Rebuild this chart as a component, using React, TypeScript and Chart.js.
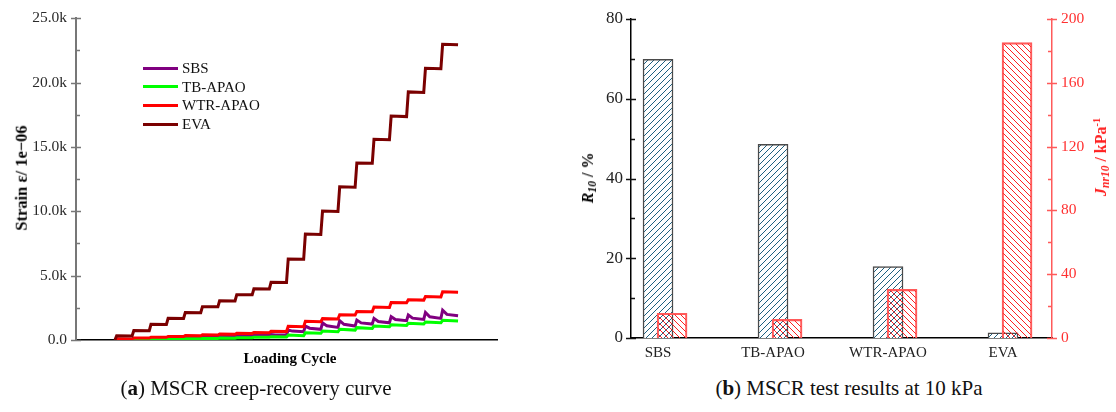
import React, { useEffect, useRef } from 'react';
import { Chart, registerables } from 'chart.js';

Chart.register(...registerables);

// ---------- Panel (a): creep-recovery strain per loading cycle (µε) ----------
const seriesNames = ['SBS', 'TB-APAO', 'WTR-APAO', 'EVA'];
const seriesColors = ['#800080', '#00ff00', '#ff0000', '#7a0000'];

const sbsPeak = [50, 90, 130, 170, 210, 250, 290, 330, 370, 420, 770, 1080, 1340, 1500, 1550, 1680, 1810, 1940, 2140, 2320];
const sbsKnee = [35, 75, 115, 150, 190, 230, 270, 310, 350, 395, 690, 920, 1100, 1220, 1330, 1440, 1590, 1700, 1800, 1990];
const sbsEnd = [30, 70, 110, 145, 185, 225, 265, 305, 345, 390, 640, 830, 980, 1080, 1240, 1340, 1500, 1600, 1680, 1880];

const tbPeak = [15, 35, 55, 75, 100, 125, 150, 180, 210, 250, 380, 570, 700, 830, 960, 1090, 1190, 1300, 1400, 1530];
const tbEnd = [10, 30, 50, 70, 95, 120, 145, 175, 205, 240, 330, 520, 640, 770, 900, 1030, 1130, 1240, 1340, 1470];

const wtrPeak = [100, 160, 220, 280, 340, 400, 460, 520, 580, 680, 1060, 1450, 1660, 1960, 2220, 2560, 2910, 3120, 3380, 3750];
const wtrEnd = [80, 150, 210, 270, 330, 390, 450, 510, 570, 660, 1030, 1420, 1630, 1940, 2190, 2530, 2890, 3100, 3350, 3720];

const evaPeak = [330, 730, 1220, 1690, 2130, 2590, 3050, 3520, 3980, 4480, 6300, 8230, 10020, 11900, 13760, 15600, 17400, 19280, 21120, 22980];
const evaEnd = [320, 720, 1210, 1680, 2120, 2580, 3040, 3510, 3970, 4470, 6270, 8200, 9990, 11870, 13730, 15560, 17360, 19240, 21080, 22940];

const strainTicks = [0, 5000, 10000, 15000, 20000, 25000];
const strainTickLabels = ['0.0', '5.0k', '10.0k', '15.0k', '20.0k', '25.0k'];
const strainMinor = [2500, 7500, 12500, 17500, 22500];

// ---------- Panel (b): MSCR results at 10 kPa ----------
const binders = ['SBS', 'TB-APAO', 'WTR-APAO', 'EVA'];
const r10 = [69.9, 48.6, 17.9, 1.3];
const jnr10 = [15.5, 11.7, 30.5, 185.2];
const r10Ticks = [0, 20, 40, 60, 80];
const r10Minor = [10, 30, 50, 70];
const jnrTicks = [0, 40, 80, 120, 160, 200];
const jnrMinor = [20, 60, 100, 140, 180];

const SERIF = '"Liberation Serif", "Times New Roman", serif';

function buildCurve(peak: number[], end: number[], knee?: number[]) {
  const pts: { x: number; y: number }[] = [{ x: 0, y: 0 }];
  for (let i = 0; i < peak.length; i++) {
    pts.push({ x: i + 0.1, y: peak[i] });
    if (knee) pts.push({ x: i + 0.35, y: knee[i] });
    pts.push({ x: i + 1, y: end[i] });
  }
  return pts;
}

const axisTicksPlugin = {
  id: 'axisTicks',
  afterDraw(chart: any, _args: any, opts: any) {
    if (!opts || !opts.items) return;
    const ctx = chart.ctx;
    ctx.save();
    for (const it of opts.items) {
      const s = chart.scales[it.id];
      if (!s) continue;
      const ax = it.side === 'left' ? s.right : s.left;
      const inward = it.side === 'left' ? 1 : -1;
      ctx.strokeStyle = it.color;
      ctx.lineWidth = it.width || 1.5;
      ctx.beginPath();
      for (const v of it.major) {
        const y = Math.round(s.getPixelForValue(v)) + 0.5;
        ctx.moveTo(ax - 5, y);
        ctx.lineTo(ax + 5, y);
      }
      for (const v of it.minor) {
        const y = Math.round(s.getPixelForValue(v)) + 0.5;
        ctx.moveTo(ax, y);
        ctx.lineTo(ax + inward * 4, y);
      }
      ctx.stroke();
    }
    ctx.restore();
  },
};

function makeHatch(color: string, size: number, forward: boolean, bg: string | null) {
  const c = document.createElement('canvas');
  c.width = size;
  c.height = size;
  const g = c.getContext('2d') as CanvasRenderingContext2D;
  if (bg) {
    g.fillStyle = bg;
    g.fillRect(0, 0, size, size);
  }
  g.strokeStyle = color;
  g.lineWidth = 1;
  g.beginPath();
  if (forward) {
    g.moveTo(0, size);
    g.lineTo(size, 0);
    g.moveTo(-size, size);
    g.lineTo(size, -size);
    g.moveTo(0, 2 * size);
    g.lineTo(2 * size, 0);
  } else {
    g.moveTo(0, 0);
    g.lineTo(size, size);
    g.moveTo(-size, 0);
    g.lineTo(size, 2 * size);
    g.moveTo(0, -size);
    g.lineTo(2 * size, size);
  }
  g.stroke();
  return g.createPattern(c, 'repeat') as CanvasPattern;
}

function LeftChart() {
  const ref = useRef<HTMLCanvasElement>(null);
  useEffect(() => {
    const curves = [
      buildCurve(sbsPeak, sbsEnd, sbsKnee),
      buildCurve(tbPeak, tbEnd),
      buildCurve(wtrPeak, wtrEnd),
      buildCurve(evaPeak, evaEnd),
    ];
    const chart = new Chart(ref.current as HTMLCanvasElement, {
      type: 'line',
      data: {
        datasets: curves.map((d, i) => ({
          label: seriesNames[i],
          data: d,
          borderColor: seriesColors[i],
          backgroundColor: seriesColors[i],
          borderWidth: 3,
          pointRadius: 0,
          tension: 0,
          fill: false,
          order: 4 - i,
        })),
      },
      options: {
        animation: false,
        responsive: false,
        devicePixelRatio: 1,
        layout: { padding: { top: 17, right: 23, left: 0, bottom: 0 } },
        plugins: {
          legend: { display: false },
          tooltip: { enabled: false },
          axisTicks: {
            items: [{ id: 'y', side: 'left', color: '#777', width: 1.5, major: strainTicks, minor: strainMinor }],
          },
        } as any,
        scales: {
          x: {
            type: 'linear',
            min: -2.27,
            max: 22.27,
            offset: false,
            ticks: { display: false },
            grid: { display: false, drawTicks: false },
            border: { color: '#000', width: 1.5 },
            afterFit: (s: any) => { s.height = 32; },
          },
          y: {
            min: 0,
            max: 25000,
            afterBuildTicks: (s: any) => { s.ticks = strainTicks.map((v) => ({ value: v })); },
            ticks: {
              callback: (_v: any, i: number) => strainTickLabels[i],
              font: { family: SERIF, size: 15.5 },
              color: '#2a2a2a',
              padding: 9,
            },
            grid: { display: false, drawTicks: false },
            border: { color: '#777', width: 2 },
            afterFit: (s: any) => { s.width = 76; },
          },
        } as any,
      },
      plugins: [axisTicksPlugin],
    });
    return () => chart.destroy();
  }, []);
  return <canvas ref={ref} width={520} height={372} style={{ position: 'absolute', left: 0, top: 0, width: 520, height: 372 }} />;
}

function RightChart() {
  const ref = useRef<HTMLCanvasElement>(null);
  useEffect(() => {
    const bluePattern = makeHatch('#1d6080', 6, true, '#ffffff');
    const redPattern = makeHatch('#ff2020', 6, false, null);
    const chart = new Chart(ref.current as HTMLCanvasElement, {
      type: 'bar',
      data: {
        datasets: [
          {
            label: 'R10',
            data: r10.map((v, i) => ({ x: i, y: v })),
            backgroundColor: bluePattern as any,
            borderColor: '#4a4a4a',
            borderWidth: 1.5,
            barThickness: 30,
            grouped: false,
            yAxisID: 'y',
            order: 2,
          },
          {
            label: 'Jnr10',
            data: jnr10.map((v, i) => ({ x: i + 0.122, y: v })),
            backgroundColor: redPattern as any,
            borderColor: '#ff5a5a',
            borderWidth: 1.5,
            barThickness: 30,
            grouped: false,
            yAxisID: 'y2',
            order: 1,
          },
        ],
      },
      options: {
        animation: false,
        responsive: false,
        devicePixelRatio: 1,
        layout: { padding: { top: 19, right: 0, left: 0, bottom: 0 } },
        plugins: {
          legend: { display: false },
          tooltip: { enabled: false },
          axisTicks: {
            items: [
              { id: 'y', side: 'left', color: '#111', width: 1.5, major: r10Ticks, minor: r10Minor },
              { id: 'y2', side: 'right', color: '#ff5a5a', width: 1.5, major: jnrTicks, minor: jnrMinor },
            ],
          },
        } as any,
        scales: {
          x: {
            type: 'linear',
            min: -0.235,
            max: 3.426,
            offset: false,
            afterBuildTicks: (s: any) => { s.ticks = binders.map((_b, i) => ({ value: i })); },
            ticks: {
              callback: (_v: any, i: number) => binders[i],
              font: { family: SERIF, size: 15 },
              color: '#222',
              padding: 6,
              maxRotation: 0,
              autoSkip: false,
            },
            grid: { display: false, drawTicks: false, offset: false },
            border: { color: '#000', width: 1.5 },
            afterFit: (s: any) => { s.height = 34; },
          },
          y: {
            position: 'left',
            min: 0,
            max: 80,
            afterBuildTicks: (s: any) => { s.ticks = r10Ticks.map((v) => ({ value: v })); },
            ticks: { font: { family: SERIF, size: 17 }, color: '#222', padding: 8 },
            grid: { display: false, drawTicks: false },
            border: { color: '#000', width: 1.5 },
            afterFit: (s: any) => { s.width = 91; },
          },
          y2: {
            position: 'right',
            min: 0,
            max: 200,
            afterBuildTicks: (s: any) => { s.ticks = jnrTicks.map((v) => ({ value: v })); },
            ticks: { font: { family: SERIF, size: 15.5 }, color: '#ff3030', padding: 9 },
            grid: { display: false, drawTicks: false },
            border: { color: '#ff5a5a', width: 1.5 },
            afterFit: (s: any) => { s.width = 64; },
          },
        } as any,
      },
      plugins: [axisTicksPlugin],
    });
    return () => chart.destroy();
  }, []);
  return <canvas ref={ref} width={576} height={372} style={{ position: 'absolute', left: 540, top: 0, width: 576, height: 372 }} />;
}

const abs = (x: number, y: number): React.CSSProperties => ({
  position: 'absolute',
  left: x,
  top: y,
  transform: 'translate(-50%, -50%)',
  whiteSpace: 'nowrap',
  fontFamily: SERIF,
  lineHeight: 1,
});

const subStyle: React.CSSProperties = { fontSize: '72%', verticalAlign: '-0.3em', lineHeight: 0 };
const supStyle: React.CSSProperties = { fontSize: '65%', verticalAlign: '0.6em', lineHeight: 0 };

const legendRows = [68, 86.5, 105, 124];

export default function App() {
  return (
    <div style={{ position: 'fixed', left: 0, top: 0, width: 1116, height: 412, background: '#fff', overflow: 'hidden' }}>
      <LeftChart />
      <RightChart />

      {seriesNames.map((n, i) => (
        <React.Fragment key={n}>
          <div style={{ position: 'absolute', left: 143, top: legendRows[i] - 1.5, width: 35, height: 3, background: seriesColors[i] }} />
          <div style={{ position: 'absolute', left: 182, top: legendRows[i] - 8, fontFamily: SERIF, fontSize: 15, lineHeight: '16px', color: '#111', whiteSpace: 'nowrap' }}>{n}</div>
        </React.Fragment>
      ))}

      <div style={{ ...abs(22, 178), transform: 'translate(-50%, -50%) rotate(-90deg)', fontWeight: 'bold', fontSize: 16.5, color: '#000' }}>
        Strain ε/ 1e−06
      </div>
      <div style={{ ...abs(290, 358), fontWeight: 'bold', fontSize: 15, color: '#000' }}>Loading Cycle</div>

      <div style={{ ...abs(588, 178), transform: 'translate(-50%, -50%) rotate(-90deg)', fontWeight: 'bold', fontSize: 16, color: '#000' }}>
        <i>R</i><span style={subStyle}><i>10</i></span> / %
      </div>
      <div style={{ ...abs(1101, 157), transform: 'translate(-50%, -50%) rotate(-90deg)', fontWeight: 'bold', fontSize: 16, color: '#ff2020' }}>
        <i>J</i><span style={subStyle}><i>nr10</i></span> / kPa<span style={supStyle}>-1</span>
      </div>

      <div style={{ ...abs(256, 388), fontSize: 21, color: '#111' }}>
        (<b>a</b>) MSCR creep-recovery curve
      </div>
      <div style={{ ...abs(849, 388), fontSize: 21, color: '#111' }}>
        (<b>b</b>) MSCR test results at 10 kPa
      </div>
    </div>
  );
}
